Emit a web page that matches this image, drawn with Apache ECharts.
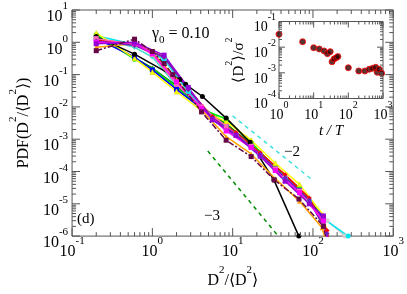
<!DOCTYPE html>
<html><head><meta charset="utf-8">
<script src="https://cdn.jsdelivr.net/npm/echarts@6/dist/echarts.min.js"></script>
<style>html,body{margin:0;padding:0;background:#fff}#c{width:407px;height:294px}</style>
</head><body><div id="c"></div>
<script>
// ---- main panel data: PDF(D^2/<D^2>) vs D^2/<D^2> ----
const sBlack   = [[0.2,1.5],[0.6,0.43],[2.2,0.07],[2.6,0.05],[4.2,0.021],[8.3,0.0045],[16.5,8e-4],[32.6,5.5e-5],[66.7,1e-6]];
const sBlue    = [[0.2,1.3],[0.6,0.35],[1.0,0.14],[2.0,0.035],[4.1,0.009],[8.3,0.0025],[17,6e-4],[34,1.2e-4],[68,2.6e-5],[135,3.5e-6],[160,4e-7]];
const sGreen   = [[0.2,1.7],[0.6,0.3],[1.0,0.15],[2.0,0.04],[4.1,0.0086],[8.3,0.0042],[17,8e-4],[34,1.3e-4],[68,3e-5],[135,3e-6],[155,5e-7]];
const sYellow  = [[0.2,1.95],[0.6,0.32],[1.0,0.12],[2.0,0.03],[4.1,0.0075],[8.3,0.0035],[17,9.3e-4],[34,1.8e-4],[68,4e-5],[135,4.4e-6],[160,6e-7]];
const sRed     = [[0.2,1.2],[0.6,0.9],[1.4,0.35],[2.8,0.035],[5.6,0.005],[11,0.0016],[22,3.8e-4],[45,8e-5],[90,1.5e-5],[150,1.5e-6],[165,4e-7]];
const sCyan    = [[0.2,1.6],[0.6,0.85],[1.4,0.3],[2.8,0.03],[5.6,0.004],[11,0.0013],[22,3e-4],[45,6e-5],[90,1.2e-5],[135,3.5e-6],[275,1e-6]];
const sMagenta = [[0.2,1.0],[0.6,0.95],[1.0,0.45],[2.0,0.06],[4.1,0.009],[8.3,0.0018],[17,5.5e-4],[34,1.07e-4],[68,2.2e-5],[135,3e-6],[155,6e-7]];
const sViolet  = [[0.2,0.9],[0.6,1.0],[1.4,0.4],[2.8,0.04],[5.6,0.004],[11,0.0013],[22,3e-4],[45,5e-5],[90,1e-5],[135,4.2e-6],[150,8e-7]];
const sOrange  = [[0.2,0.7],[0.6,0.9],[1.0,0.5],[2.0,0.07],[4.1,0.008],[8.3,0.0012],[17,3.5e-4],[34,6e-5],[68,1.2e-5],[130,1.8e-6],[150,5e-7]];
const sMaroon  = [[0.2,0.55],[0.6,1.25],[1.0,0.52],[1.4,0.22],[1.8,0.1],[4.1,0.007],[8.3,9.3e-4],[17,2.9e-4],[33,5.5e-5],[67,1.4e-5],[135,2e-6],[150,6e-7]];
const sIndigo  = [[0.2,1.1],[0.6,0.8],[1.4,0.35],[2.8,0.035],[5.6,0.0045],[11,0.0014],[22,3.4e-4],[45,6.5e-5],[90,1.3e-5],[150,1.2e-6],[160,5e-7]];
const sBrown   = [[0.2,1.3],[0.6,0.85],[1.0,0.42],[2.0,0.05],[4.1,0.01],[8.3,0.0025],[17,6e-4],[34,1.2e-4],[68,2.5e-5],[135,3e-6],[155,5e-7]];
const sTurq    = [[0.2,1.4],[0.6,0.7],[1.0,0.35],[2.0,0.045],[4.1,0.009],[8.3,0.0028],[17,6.5e-4],[34,1.3e-4],[68,2.8e-5],[135,3.2e-6],[160,5e-7]];
const sGreen4  = [[0.2,1.5],[0.6,0.33],[1.0,0.16],[2.0,0.045],[4.1,0.01],[8.3,0.003],[17,7e-4],[34,1.4e-4],[68,3e-5],[135,3.8e-6],[160,5e-7]];
const sGrey    = [[0.2,1.2],[0.6,0.9],[1.4,0.3],[2.8,0.03],[5.6,0.0045],[11,0.0015],[22,3.6e-4],[45,7e-5],[90,1.4e-5],[150,3e-6],[250,1e-6]];
// reference power laws
const refSlope2 = [[10,5.3e-3],[100,5.3e-5]];
const refSlope3 = [[4.9,4.3e-4],[37,1e-6]];
// ---- inset data: <D^2>/sigma^2 vs t/T ----
const insetT = [1,4.8,10,14.5,20,25,30,34,39,45,50,100,200,300,400,500,615,680,780,910];
const insetD = [0.0317,0.0163,0.0095,0.0085,0.0071,0.0056,0.0067,0.0027,0.0035,0.0039,0.0043,0.00158,0.00118,0.00118,0.00137,0.0015,0.00164,0.00105,0.00137,0.00096];
// axis ranges (decades)
const mainX = [0.1, 1000], mainY = [1e-6, 10];
const insX = [1, 1000], insY = [1e-4, 0.1];

const FONT = 'Liberation Serif';
const AX = '#555';

function decadeMinors(lo, hi) {
  const out = [];
  for (let e = Math.round(Math.log10(lo)); e < Math.round(Math.log10(hi)); e++)
    for (let m = 2; m <= 9; m++) out.push(m * Math.pow(10, e));
  return out;
}
function decades(lo, hi) {
  const out = [];
  for (let e = Math.round(Math.log10(lo)); e <= Math.round(Math.log10(hi)); e++) out.push(Math.pow(10, e));
  return out;
}
function tickSeries(idx, vals, dir, other, len) {
  return {
    type: 'custom', xAxisIndex: idx, yAxisIndex: idx, silent: true, z: 20, clip: false,
    data: vals.map(v => dir === 'x' ? [v, other[0]] : [other[0], v]),
    renderItem: function (params, api) {
      const v = api.value(dir === 'x' ? 0 : 1);
      const a = api.coord(dir === 'x' ? [v, other[0]] : [other[0], v]);
      const b = api.coord(dir === 'x' ? [v, other[1]] : [other[1], v]);
      const st = { stroke: AX, lineWidth: 1 };
      if (dir === 'x') return { type: 'group', children: [
        { type: 'line', shape: { x1: a[0], y1: a[1], x2: a[0], y2: a[1] - len }, style: st },
        { type: 'line', shape: { x1: b[0], y1: b[1], x2: b[0], y2: b[1] + len }, style: st }] };
      return { type: 'group', children: [
        { type: 'line', shape: { x1: a[0], y1: a[1], x2: a[0] + len, y2: a[1] }, style: st },
        { type: 'line', shape: { x1: b[0], y1: b[1], x2: b[0] - len, y2: b[1] }, style: st }] };
    }
  };
}
function supRich(fs, ss) {
  return {
    b: { fontFamily: FONT, fontSize: fs, lineHeight: fs + 8, verticalAlign: 'bottom', color: '#000' },
    s: { fontFamily: FONT, fontSize: ss, lineHeight: ss, verticalAlign: 'top', color: '#000' }
  };
}
function powLabel(fs, ss) {
  return { formatter: v => '{b|10}{s|' + Math.round(Math.log10(v)) + '}', rich: supRich(fs, ss) };
}
function line(data, color, symbol, opts) {
  return Object.assign({
    type: 'line', xAxisIndex: 0, yAxisIndex: 0, data: data, symbol: symbol, symbolSize: 5,
    showSymbol: true, lineStyle: { color: color, width: 1.5 }, itemStyle: { color: color },
    z: 5, clip: true, animation: false
  }, opts || {});
}

const chart = echarts.init(document.getElementById('c'), null, { renderer: 'canvas' });
chart.setOption({
  animation: false,
  grid: [
    { left: 50, top: 10, width: 347, height: 242, show: true, borderColor: AX, borderWidth: 1, backgroundColor: 'transparent' },
    { left: 279, top: 21.5, width: 104, height: 77, show: true, borderColor: AX, borderWidth: 1, backgroundColor: '#fff', z: 10 }
  ],
  xAxis: [
    { type: 'log', gridIndex: 0, min: mainX[0], max: mainX[1], interval: 1, axisLine: { show: false }, axisTick: { show: false }, splitLine: { show: false },
      axisLabel: Object.assign({ margin: 0 }, powLabel(16, 11)),
      name: '{b|D}{s|2}{b|/⟨D}{s|2}{b|⟩}', nameLocation: 'middle', nameGap: 19,
      nameTextStyle: { rich: supRich(16, 11) } },
    { type: 'log', gridIndex: 1, min: insX[0], max: insX[1], interval: 1, axisLine: { show: false }, axisTick: { show: false }, splitLine: { show: false },
      axisLabel: Object.assign({ margin: 2 }, powLabel(14, 10)), z: 11,
      name: 't / T', nameLocation: 'middle', nameGap: 20,
      nameTextStyle: { fontFamily: FONT, fontSize: 15, fontStyle: 'italic', color: '#000' } }
  ],
  yAxis: [
    { type: 'log', gridIndex: 0, min: mainY[0], max: mainY[1], interval: 1, axisLine: { show: false }, axisTick: { show: false }, splitLine: { show: false },
      axisLabel: Object.assign({ margin: 4, padding: [6, 0, 0, 0] }, powLabel(16, 11)),
      name: '{b|PDF(D}{s|2}{b|/⟨D}{s|2}{b|⟩)}', nameLocation: 'middle', nameGap: 30,
      nameTextStyle: { rich: supRich(16, 11) } },
    { type: 'log', gridIndex: 1, min: insY[0], max: insY[1], interval: 1, axisLine: { show: false }, axisTick: { show: false }, splitLine: { show: false },
      axisLabel: Object.assign({ margin: 3, padding: [4, 0, 0, 0] }, powLabel(14, 10)), z: 11,
      name: '{b|⟨D}{s|2}{b|⟩/σ}{s|2}', nameLocation: 'middle', nameGap: 32,
      nameTextStyle: { rich: supRich(15, 10) } }
  ],
  graphic: [
    { type: 'text', left: 152, top: 26, style: { text: '{b|γ}{u|0}{b| = 0.10}', fill: '#000',
      rich: { b: { fontFamily: FONT, fontSize: 16, lineHeight: 20, verticalAlign: 'top' }, u: { fontFamily: FONT, fontSize: 11, lineHeight: 11, verticalAlign: 'bottom' } } } },
    { type: 'text', left: 77, top: 212, style: { text: '(d)', fontFamily: FONT, fontSize: 15, fill: '#000' } },
    { type: 'text', left: 284, top: 145, style: { text: '−2', fontFamily: FONT, fontSize: 15, fill: '#000' } },
    { type: 'text', left: 204, top: 209, style: { text: '−3', fontFamily: FONT, fontSize: 15, fill: '#000' } }
  ],
  series: [
    line(refSlope2, '#40e0e0', 'none', { lineStyle: { color: '#40e0e0', width: 1.5, type: [4, 4] } }),
    line(refSlope3, '#008b00', 'none', { lineStyle: { color: '#008b00', width: 1.5, type: [4, 4] } }),
    line(sGrey, '#d0d0d0', 'circle'),
    line(sCyan, '#00e5ee', 'circle'),
    line(sTurq, '#40e0d0', 'diamond'),
    line(sGreen4, '#008b00', 'triangle'),
    line(sGreen, '#00ee00', 'circle'),
    line(sBlue, '#0000ff', 'rect'),
    line(sYellow, '#ffff00', 'triangle', { itemStyle: { color: '#ffff00', borderColor: '#c8c800', borderWidth: 0.5 } }),
    line(sBlack, '#000000', 'circle'),
    line(sRed, '#ff0000', 'diamond'),
    line(sBrown, '#ff69b4', 'rect'),
    line(sOrange, '#ffa500', 'triangle'),
    line(sIndigo, '#7221bc', 'diamond'),
    line(sMagenta, '#ff00ff', 'rect'),
    line(sViolet, '#9400d3', 'rect'),
    line(sMaroon, '#670748', 'rect', { lineStyle: { color: '#670748', width: 1.5, type: [6, 2, 2, 2] } }),
    tickSeries(0, decadeMinors(mainX[0], mainX[1]), 'x', mainY, 4),
    tickSeries(0, decades(mainX[0], mainX[1]), 'x', mainY, 8),
    tickSeries(0, decadeMinors(mainY[0], mainY[1]), 'y', mainX, 4),
    tickSeries(0, decades(mainY[0], mainY[1]), 'y', mainX, 8),
    { type: 'scatter', xAxisIndex: 1, yAxisIndex: 1, data: insetT.map((t, i) => [t, insetD[i]]), symbol: 'circle', symbolSize: 6,
      itemStyle: { color: '#300000', borderColor: '#ff0000', borderWidth: 1 }, z: 12 },
    Object.assign(tickSeries(1, decadeMinors(insX[0], insX[1]), 'x', insY, 3), { z: 13 }),
    Object.assign(tickSeries(1, decades(insX[0], insX[1]), 'x', insY, 6), { z: 13 }),
    Object.assign(tickSeries(1, decadeMinors(insY[0], insY[1]), 'y', insX, 3), { z: 13 }),
    Object.assign(tickSeries(1, decades(insY[0], insY[1]), 'y', insX, 6), { z: 13 })
  ]
});
</script></body></html>
